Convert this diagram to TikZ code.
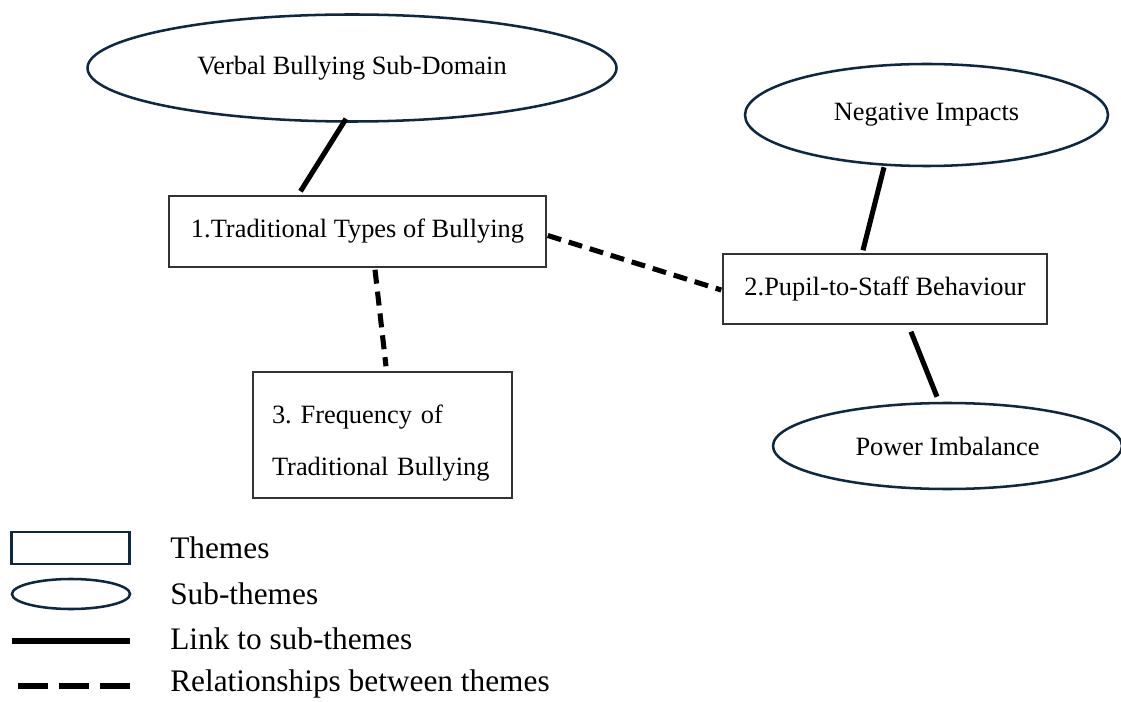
\documentclass[tikz,border=0pt]{standalone}
\usepackage{fontspec}
\setmainfont{Liberation Serif}
\usetikzlibrary{shapes.geometric,calc}
\definecolor{navy}{HTML}{0E2841}
\definecolor{boxline}{HTML}{333333}

\begin{document}
\begin{tikzpicture}[
    x=0.75pt, y=-0.75pt,
    theme/.style={rectangle, draw=boxline, line width=1.1pt, inner sep=0pt},
    subtheme/.style={ellipse, draw=navy, line width=1.9pt, inner sep=0pt},
    link/.style={line width=3.8pt},
    relation/.style={line width=3.8pt, dash pattern=on 10.5pt off 6pt},
    diag/.style={font=\fontsize{19.8}{24}\selectfont\frenchspacing},
    legendtext/.style={anchor=west, inner sep=0pt, font=\fontsize{23.5}{28}\selectfont}]
    \useasboundingbox (0,0) rectangle (1121,702);
    % sub-themes
    \node [subtheme, diag, minimum width=396.75pt, minimum height=80.25pt] (verbal) at (352,68) {Verbal Bullying Sub-Domain};
    \node [subtheme, diag, minimum width=272.25pt, minimum height=76.5pt] (negimp) at (926.5,115) {Negative Impacts};
    \node [subtheme, diag, minimum width=261.75pt, minimum height=64.5pt] (power) at (947.5,446) {Power Imbalance};
    % themes
    \node [theme, diag, minimum width=282.75pt, minimum height=53.25pt] (trad) at (357.5,231.5) {1.Traditional Types of Bullying};
    \node [theme, diag, minimum width=243pt, minimum height=52.5pt] (pupil) at (885,289) {2.Pupil-to-Staff Behaviour};
    \node [theme, minimum width=194.25pt, minimum height=94.5pt, text width=165.75pt, align=left,
      font=\fontsize{19.8}{39}\selectfont\frenchspacing] (freq) at (382.5,435) {\rule{0pt}{26pt}3. Frequency of\\Traditional Bullying};
    % links to sub-themes
    \draw [link] ($(verbal.south)+(-6,-4)$) -- ($(trad.north)+(-57,-4)$);
    \draw [link] ($(negimp.south)+(-42.5,0)$) -- ($(pupil.north)+(-22,-3)$);
    \draw [link] ($(pupil.south)+(26,7)$) -- ($(power.north)+(-10.5,-5)$);
    % relationships between themes
    \draw [relation] ($(trad.east)+(1,4)$) -- ($(pupil.west)+(-1,1)$);
    \draw [relation] ($(trad.south)+(17.5,2)$) -- ($(freq.north)+(3.5,-5)$);
    % legend
    \node [rectangle, draw=navy, line width=2.2pt, minimum width=89pt, minimum height=24pt] (keytheme) at (70.5,548) {};
    \node [subtheme, minimum width=88.5pt, minimum height=22.5pt] (keysub) at (71,594) {};
    \coordinate (linkA) at (12,641);
    \coordinate (linkB) at (130,641);
    \coordinate (relA) at (18,686);
    \coordinate (relB) at (130,686);
    \draw [link] (linkA) -- (linkB);
    \draw [line width=3.8pt, dash pattern=on 22.5pt off 8.25pt] (relA) -- (relB);
    \node [legendtext] (tthemes) at (170,548) {Themes};
    \node [legendtext] (tsub) at (170,594) {Sub-themes};
    \node [legendtext] (tlink) at (170,639) {Link to sub-themes};
    \node [legendtext] (trel) at (170,684) {Relationships between themes};
\end{tikzpicture}
\end{document}
